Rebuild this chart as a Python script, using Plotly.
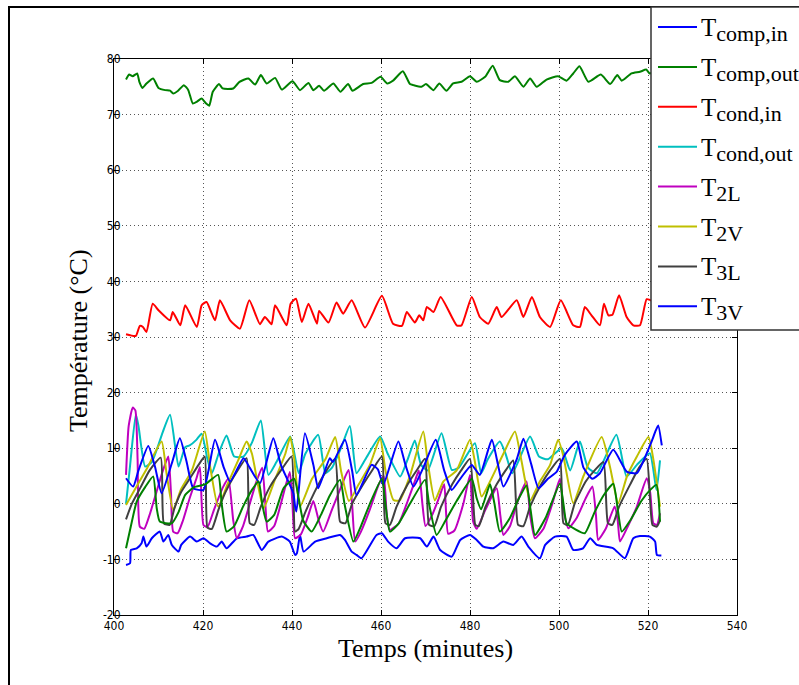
import plotly.graph_objects as go

# ---- data (time in minutes, temperature in °C) ----
T_COMP_OUT = [(402.7,76.3),(403.4,77.2),(404.2,76.9),(405.2,77.4),(405.7,75.9),(406.4,74.8),(407.3,75.6),(408.8,76.5),(410.0,74.8),(411.5,74.4),(412.6,74.3),(413.3,73.8),(414.4,74.3),(415.7,75.3),(416.7,74.4),(417.7,72.0),(418.6,72.3),(419.7,72.9),(420.7,72.0),(421.4,71.6),(422.2,74.1),(423.6,75.5),(424.4,74.7),(426.8,74.7),(428.2,75.9),(430.2,76.5),(431.7,75.4),(433.0,77.1),(434.3,75.6),(436.2,76.6),(437.7,74.5),(440.1,76.0),(441.8,74.4),(443.7,75.7),(444.8,74.4),(446.1,75.2),(447.2,74.3),(449.3,75.6),(450.9,74.1),(452.6,75.5),(453.6,74.3),(456.0,75.5),(457.9,75.7),(459.9,76.8),(461.4,75.6),(462.7,76.1),(464.9,77.8),(466.5,75.5),(467.3,75.3),(469.1,75.0),(470.1,75.5),(471.8,74.4),(473.1,75.6),(474.7,74.3),(476.2,75.6),(478.1,75.9),(480.0,76.9),(481.5,75.9),(483.4,76.8),(485.1,78.8),(486.7,76.2),(488.6,75.9),(490.1,76.9),(492.0,75.0),(493.5,76.5),(495.0,75.0),(497.2,76.3),(499.8,76.9),(501.7,76.1),(503.2,77.4),(504.6,78.7),(506.6,75.9),(509.4,77.2),(511.5,75.5),(513.1,77.1),(514.1,76.1),(516.3,77.4),(518.2,77.7),(519.6,78.1),(520.4,77.4),(521.5,77.8),(523.0,77.6)]

T_COND_IN = [(402.7,30.5),(404.9,30.2),(405.8,32.0),(406.5,31.8),(407.3,30.9),(408.7,36.0),(410.0,34.8),(412.6,33.0),(413.2,34.5),(414.9,32.1),(416.0,35.7),(418.6,31.8),(419.7,35.7),(420.8,36.3),(422.7,33.0),(423.8,36.6),(426.1,33.0),(428.3,31.5),(430.4,36.6),(432.8,32.3),(433.9,33.6),(435.4,32.3),(436.2,35.7),(438.8,32.1),(439.7,36.0),(440.9,36.9),(442.2,32.7),(443.7,36.0),(445.6,32.4),(446.1,34.7),(448.2,32.6),(450.0,36.2),(451.5,34.2),(453.4,36.6),(456.4,31.7),(460.2,37.4),(462.7,32.4),(464.7,32.0),(465.8,34.5),(467.6,32.6),(468.6,33.9),(469.5,33.0),(470.3,35.4),(471.8,34.5),(473.4,37.2),(477.0,32.1),(478.1,32.1),(480.4,37.2),(482.2,33.6),(484.1,32.4),(486.0,35.4),(487.1,33.6),(490.5,36.6),(492.0,33.6),(493.9,37.2),(495.7,33.6),(498.0,31.8),(500.4,36.6),(503.2,32.1),(504.7,31.8),(505.8,35.4),(507.3,33.9),(509.2,32.1),(510.1,36.0),(511.1,33.9),(512.0,34.0),(513.5,37.5),(515.2,33.6),(516.7,32.1),(518.2,32.1),(519.7,36.8),(520.8,36.5),(522.0,34.0),(523.0,33.5)]

T_COMP_IN = [(402.7,-11.0),(403.6,-10.7),(403.8,-8.3),(405.1,-8.0),(406.2,-7.1),(406.6,-5.9),(407.3,-7.7),(408.5,-6.2),(410.3,-5.0),(411.1,-6.8),(412.2,-5.6),(413.0,-7.4),(414.5,-8.6),(415.1,-7.4),(417.1,-5.9),(418.6,-6.8),(420.1,-6.2),(421.6,-7.1),(423.1,-7.7),(424.2,-6.8),(425.3,-8.0),(427.6,-6.2),(429.8,-5.9),(431.3,-5.6),(433.2,-8.3),(434.7,-6.8),(437.7,-5.9),(439.5,-6.8),(440.7,-9.2),(441.1,-8.9),(441.8,-5.6),(442.6,-8.6),(445.2,-6.8),(447.8,-6.2),(450.8,-5.6),(451.9,-6.5),(453.4,-8.6),(454.5,-9.2),(455.6,-9.8),(459.0,-5.6),(460.2,-5.3),(461.6,-6.8),(463.5,-8.0),(465.4,-6.2),(468.8,-6.2),(470.3,-7.7),(471.8,-5.9),(473.3,-8.3),(475.9,-9.5),(477.8,-6.5),(480.0,-5.6),(481.5,-6.5),(483.0,-7.7),(485.2,-8.0),(487.5,-6.8),(489.7,-7.4),(491.6,-5.9),(493.1,-7.7),(495.7,-9.8),(496.9,-7.4),(499.1,-5.9),(501.7,-5.9),(503.2,-8.3),(505.4,-8.0),(507.0,-6.2),(508.5,-7.4),(512.2,-8.0),(514.8,-9.8),(516.7,-6.2),(518.2,-5.8),(520.4,-5.9),(521.6,-6.8),(522.0,-9.2),(523.0,-9.3)]

T_COND_OUT = [(402.7,0.0),(403.5,6.0),(404.9,16.1),(405.5,14.0),(407.0,6.7),(408.5,7.5),(409.5,9.5),(411.0,13.0),(412.6,16.0),(414.5,6.7),(416.0,10.2),(417.0,10.5),(418.5,11.5),(419.7,12.6),(421.0,8.0),(422.0,5.5),(423.5,9.0),(425.3,12.3),(427.0,8.5),(429.1,8.5),(431.0,11.0),(433.0,15.0),(434.7,5.2),(436.5,7.5),(439.6,12.1),(441.5,5.5),(443.0,9.0),(445.9,12.4),(447.5,5.5),(449.0,6.5),(451.0,10.0),(453.0,14.0),(454.5,5.5),(456.5,8.0),(459.8,12.1),(461.5,9.0),(464.3,4.9),(466.0,8.0),(467.6,11.4),(469.0,7.0),(470.5,6.0),(473.6,12.7),(475.9,6.1),(477.5,6.5),(481.1,10.9),(482.5,5.5),(484.0,8.0),(486.7,11.2),(488.0,9.0),(489.5,5.5),(493.5,12.1),(495.5,8.5),(497.5,8.0),(500.6,10.0),(502.5,6.0),(504.7,11.2),(506.5,6.5),(508.5,5.5),(512.9,12.4),(515.2,4.9),(517.5,7.0),(520.4,9.1),(521.9,2.5),(522.7,7.8)]

T_2L = [(402.7,5.2),(403.3,14.0),(404.2,17.3),(404.8,16.8),(405.3,8.0),(405.8,-4.1),(406.8,-4.5),(408.0,-2.0),(409.5,2.0),(411.0,6.0),(412.2,8.5),(412.8,2.0),(413.3,-5.0),(414.3,-5.3),(415.5,-3.0),(417.0,1.0),(418.5,4.5),(419.3,6.6),(420.1,-3.8),(421.0,-4.2),(422.5,-1.0),(424.5,3.0),(425.7,4.5),(426.8,-3.0),(427.6,-6.2),(429.0,-4.0),(430.5,0.0),(432.0,4.0),(433.3,6.5),(434.0,0.0),(434.6,-5.0),(436.0,-4.0),(437.5,0.0),(439.5,5.7),(440.1,0.0),(440.7,-6.2),(442.0,-5.5),(443.5,-2.5),(444.8,0.5),(446.0,-3.0),(447.0,-5.0),(449.0,-1.0),(451.0,3.0),(452.7,6.1),(453.5,0.0),(454.2,-6.8),(455.5,-5.0),(457.5,-1.0),(459.5,3.5),(460.6,5.0),(461.3,-2.0),(462.0,-4.7),(464.0,-3.5),(466.0,0.5),(467.8,4.5),(468.5,6.0),(469.3,0.0),(470.0,-4.0),(471.5,-2.0),(473.0,1.0),(474.2,3.5),(475.1,-5.4),(476.5,-4.8),(478.5,0.0),(480.0,5.2),(480.7,-3.2),(481.5,-4.5),(483.5,-1.0),(486.0,2.8),(486.8,-2.0),(487.5,-5.6),(489.0,-4.0),(490.5,0.0),(492.7,4.0),(493.5,-2.0),(494.6,-6.2),(496.5,-4.5),(498.5,0.0),(500.2,4.5),(501.0,-1.0),(502.1,-4.4),(504.0,-2.5),(506.0,1.0),(507.5,3.1),(508.3,-2.0),(508.8,-6.5),(510.5,-4.5),(512.5,-0.5),(513.2,-3.0),(513.7,-6.8),(515.5,-4.0),(517.5,-0.5),(519.7,4.6),(520.5,2.0),(521.2,-3.5),(522.0,-3.8),(522.7,-1.7)]

T_2V = [(402.7,-0.2),(405.0,3.0),(407.5,6.5),(410.7,11.2),(411.8,5.5),(413.3,-1.1),(415.0,2.5),(417.5,6.0),(420.4,13.0),(421.6,6.7),(423.4,-0.5),(425.5,3.5),(428.0,8.0),(429.8,11.2),(431.0,9.0),(433.6,-0.8),(436.0,4.0),(438.5,9.0),(439.6,12.0),(440.5,8.0),(441.8,-0.5),(444.5,4.5),(447.5,8.0),(449.7,12.0),(451.0,6.0),(452.8,0.5),(455.0,3.5),(457.5,7.0),(459.8,11.8),(461.0,6.0),(462.8,0.7),(464.2,0.6),(466.5,5.0),(469.5,13.0),(470.5,7.5),(472.1,0.6),(474.0,4.0),(477.0,6.0),(480.0,11.5),(481.0,8.0),(482.6,1.3),(484.5,4.0),(487.5,9.0),(490.1,13.0),(491.5,8.0),(493.5,0.6),(495.7,4.0),(498.0,7.0),(499.8,11.5),(501.0,8.5),(503.2,0.1),(505.5,5.0),(509.6,12.0),(511.5,6.5),(513.3,0.1),(515.3,5.0),(517.5,8.5),(520.1,12.0),(521.2,8.0),(522.7,-0.5)]

T_3L = [(402.7,-2.8),(404.0,0.0),(406.0,3.0),(408.0,6.0),(410.5,8.3),(411.2,-3.5),(412.5,-3.8),(413.5,-1.0),(415.0,2.0),(417.0,4.5),(419.0,7.0),(420.4,8.5),(421.0,-4.3),(422.0,-4.5),(423.5,-1.0),(425.0,2.0),(427.0,5.0),(429.8,8.2),(430.5,-3.5),(431.5,-3.8),(433.0,-0.5),(435.0,3.0),(437.5,6.0),(439.9,8.5),(440.7,-5.0),(441.5,-4.5),(443.0,-1.5),(445.0,2.0),(447.0,5.0),(449.7,8.1),(450.8,-3.2),(452.0,-3.5),(453.5,0.0),(456.0,3.5),(458.0,6.0),(460.2,8.5),(461.0,-3.5),(462.0,-3.8),(463.5,-0.5),(466.0,3.5),(468.0,6.0),(469.9,8.1),(470.8,-3.8),(472.0,-4.0),(473.5,-0.5),(476.0,3.5),(478.0,6.0),(480.0,8.1),(481.2,-3.8),(482.0,-4.0),(483.5,-0.5),(486.0,3.5),(488.0,6.0),(489.7,7.8),(490.8,-3.8),(492.0,-4.0),(493.5,-0.5),(496.0,3.5),(498.0,6.0),(500.2,8.1),(501.0,-3.5),(502.0,-3.8),(503.5,0.0),(506.0,4.0),(508.0,6.0),(510.0,7.5),(511.0,-3.5),(512.0,-3.8),(513.5,-0.5),(516.0,3.5),(518.0,6.5),(519.7,8.1),(521.0,-3.8),(522.0,-4.1),(522.7,-3.0)]

T_3V = [(402.7,4.6),(404.3,3.1),(405.5,6.0),(407.7,10.4),(409.2,6.7),(410.7,1.9),(413.0,7.3),(414.8,11.8),(416.3,7.6),(417.8,2.8),(420.1,2.5),(422.7,11.5),(424.6,6.7),(426.1,4.0),(429.1,8.2),(430.5,6.5),(432.8,3.7),(435.8,11.8),(437.5,7.0),(440.3,1.9),(440.7,-0.5),(441.0,-1.4),(442.9,12.7),(444.8,7.0),(445.9,2.8),(448.5,8.2),(449.2,7.5),(451.9,11.5),(453.5,6.0),(454.5,1.6),(457.9,7.0),(459.3,6.2),(460.5,3.4),(463.9,11.2),(465.5,7.0),(467.3,3.1),(469.5,6.5),(472.3,11.5),(474.2,6.0),(475.9,2.5),(477.8,4.5),(480.4,7.0),(482.2,5.2),(484.9,11.5),(486.3,7.0),(487.5,3.1),(490.5,8.0),(492.0,11.7),(493.8,7.0),(495.4,2.8),(497.5,4.5),(499.5,5.8),(501.3,8.8),(504.0,11.2),(505.5,6.5),(507.5,4.5),(509.2,5.5),(512.2,9.7),(515.2,5.8),(517.5,5.5),(520.8,11.2),(521.6,12.9),(522.3,14.1),(523.1,10.5)]

# extra green trace in the lower group (not listed in the legend)
T_EXTRA = [(402.7,-8.0),(403.8,-4.0),(405.1,0.4),(407.0,3.0),(408.8,4.9),(409.6,-0.8),(410.3,-3.2),(413.0,-3.5),(414.5,-1.5),(416.0,1.6),(418.0,3.0),(420.5,3.5),(423.4,5.2),(424.2,0.0),(425.3,-5.0),(427.0,-4.0),(429.0,-0.5),(431.0,2.5),(432.5,4.0),(433.3,0.0),(434.3,-3.2),(436.0,-2.0),(438.1,2.8),(440.5,4.5),(441.5,1.0),(442.5,-3.0),(444.4,-5.0),(446.5,-2.0),(448.5,1.5),(450.8,4.3),(451.8,0.0),(453.8,-6.8),(455.5,-4.0),(457.5,0.0),(460.2,4.5),(461.0,0.0),(462.0,-5.0),(464.0,-3.5),(466.5,0.0),(469.9,4.3),(470.8,0.0),(472.5,-5.6),(474.5,-3.0),(477.0,0.5),(480.4,4.5),(481.5,1.0),(482.5,-1.0),(484.5,3.5),(485.5,0.0),(486.7,-5.0),(489.0,-2.5),(491.0,1.0),(492.7,3.3),(493.6,-1.0),(494.6,-5.6),(497.0,-2.5),(500.2,3.6),(501.0,0.0),(501.7,-3.5),(503.5,-4.5),(505.8,-5.3),(508.0,-1.5),(510.0,1.5),(512.2,3.6),(513.2,-1.0),(514.1,-5.0),(516.0,-3.0),(518.5,0.5),(520.5,2.5),(521.9,3.4),(522.7,-3.2)]

# legend: (main letter, subscript, data, colour, listed in legend)
SERIES = [
    ("T", "comp,in", T_COMP_IN, "#0000FF", True),
    ("T", "comp,out", T_COMP_OUT, "#008000", True),
    ("T", "cond,in", T_COND_IN, "#FF0000", True),
    ("T", "cond,out", T_COND_OUT, "#00BFBF", True),
    ("T", "2L", T_2L, "#BF00BF", True),
    ("T", "2V", T_2V, "#BFBF00", True),
    ("T", "3L", T_3L, "#404040", True),
    ("T", "3V", T_3V, "#0000FF", True),
    ("T", "extra", T_EXTRA, "#008000", False),
]

X_TICKS = [400, 420, 440, 460, 480, 500, 520, 540]
Y_TICKS = [-20, -10, 0, 10, 20, 30, 40, 50, 60, 70, 80]

W, H = 799, 685
L, R, T, B = 114, 62, 59, 70
pw, ph = W - L - R, H - T - B

def px2paper_x(px):
    return (px - L) / pw

def py2paper_y(py):
    return (H - B - py) / ph

SERIF = "Liberation Serif, Times New Roman, serif"

fig = go.Figure()
for main, sub, pts, color, show in SERIES:
    fig.add_trace(go.Scatter(
        x=[p[0] for p in pts], y=[p[1] for p in pts], mode="lines",
        name=f"{main}<sub>{sub}</sub>", showlegend=False,
        line=dict(color=color, width=2, shape="spline", smoothing=0.5),
    ))

# legend box drawn as shapes + text annotations (MATLAB style)
shapes = [
    dict(type="rect", xref="paper", yref="paper",
         x0=px2paper_x(9), x1=px2paper_x(810), y0=py2paper_y(700), y1=py2paper_y(7),
         line=dict(color="black", width=2), fillcolor="rgba(0,0,0,0)", layer="below"),
    dict(type="rect", xref="paper", yref="paper",
         x0=px2paper_x(651), x1=px2paper_x(830), y0=py2paper_y(330), y1=py2paper_y(7),
         line=dict(color="#333333", width=1.5), fillcolor="white", layer="above"),
]
annotations = []
LEG_Y0, LEG_DY = 27, 39.9
legend_items = [s for s in SERIES if s[4]]
for i, (main, sub, pts, color, show) in enumerate(legend_items):
    ly = LEG_Y0 + i * LEG_DY
    shapes.append(dict(type="line", xref="paper", yref="paper",
                       x0=px2paper_x(658), x1=px2paper_x(697),
                       y0=py2paper_y(ly), y1=py2paper_y(ly),
                       line=dict(color=color, width=2), layer="above"))
    annotations.append(dict(
        text=f'{main}<sub><span style="font-size:22px">{sub}</span></sub>',
        xref="paper", yref="paper", x=px2paper_x(699), y=py2paper_y(ly + 3),
        xanchor="left", yanchor="middle", showarrow=False,
        font=dict(family=SERIF, size=25, color="black"),
    ))

annotations += [
    dict(text="Temps (minutes)", xref="paper", yref="paper",
         x=px2paper_x(425), y=py2paper_y(648), xanchor="center", yanchor="middle",
         showarrow=False, font=dict(family=SERIF, size=26, color="black")),
    dict(text="Température (°C)", xref="paper", yref="paper",
         x=px2paper_x(78), y=py2paper_y(341), xanchor="center", yanchor="middle",
         textangle=-90, showarrow=False, font=dict(family=SERIF, size=26, color="black")),
]

tick_font = dict(family="Liberation Sans Narrow, DejaVu Sans Condensed, Arial Narrow, sans-serif", size=12, color="black")
axis_common = dict(
    showline=True, linecolor="black", linewidth=1, mirror="ticks",
    ticks="inside", ticklen=5, tickcolor="black",
    showgrid=True, gridcolor="#555555", gridwidth=1, griddash="1px,3px",
    zeroline=False, tickfont=tick_font,
)

fig.update_layout(
    width=W, height=H,
    margin=dict(l=L, r=R, t=T, b=B, autoexpand=False),
    paper_bgcolor="white", plot_bgcolor="white",
    showlegend=False,
    xaxis=dict(range=[400, 540], tickvals=X_TICKS, ticktext=[str(v) for v in X_TICKS], **axis_common),
    yaxis=dict(range=[-20, 80], tickvals=Y_TICKS, ticktext=[str(v) for v in Y_TICKS],
               ticklabelstandoff=-10, **axis_common),
    shapes=shapes,
    annotations=annotations,
)

fig.write_html("out.html", config={"displayModeBar": False},
               post_script="document.body.style.margin='0';document.body.style.overflow='hidden';")
